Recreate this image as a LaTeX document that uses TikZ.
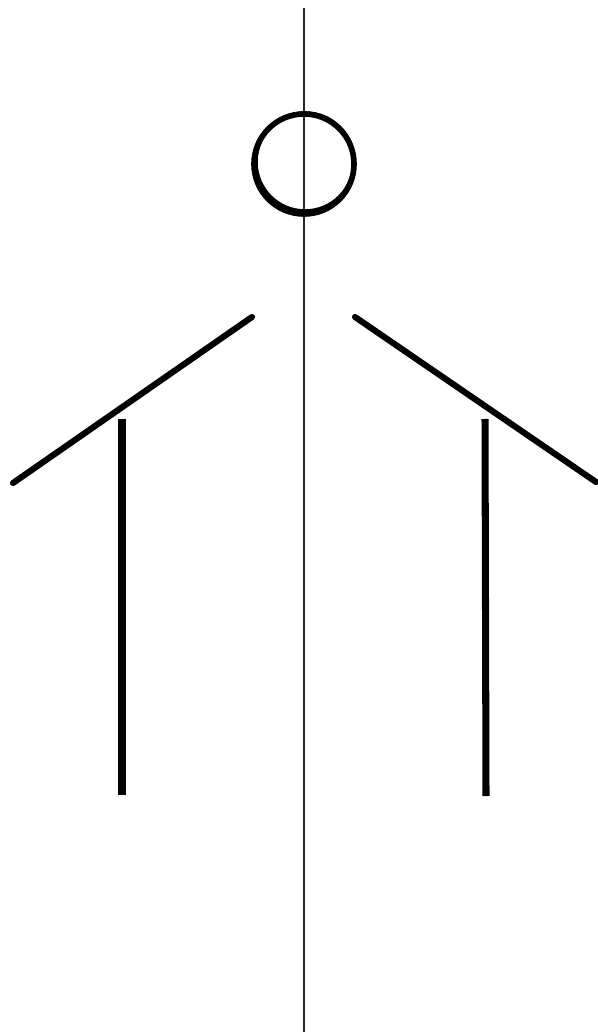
\documentclass[tikz,border=0pt]{standalone}
\usepackage{tikz}

\begin{document}
\begin{tikzpicture}[x=0.01cm,y=-0.01cm,
   axis/.style={line width=0.6pt,black!85},
   stroke/.style={line width=1.75pt,line cap=round},
   bar/.style={line width=2pt},
   head/.style={circle,draw,line width=1.6pt,inner sep=0pt,minimum size=1.0cm}]
  \useasboundingbox (0,0) rectangle (598,1034);
  % axis
  \coordinate (top) at (304,8);
  \coordinate (bot) at (304,1032);
  \draw[axis] (top) -- (bot);
  % head, drawn twice
  \node[head] (hd) at (304,164) {};
  \node[head,line width=1pt,minimum size=0.98cm] (hd2) at (305,162) {};
  % arms
  \coordinate (la) at (252,317);
  \coordinate (lb) at (13,483);
  \coordinate (ra) at (355,317);
  \coordinate (rb) at (596,482);
  \draw[stroke] (la) -- (lb);
  \draw[stroke] (ra) -- (rb);
  % legs
  \coordinate (ll1) at (122,419);
  \coordinate (ll2) at (122,795);
  \coordinate (rl1) at (485,419);
  \coordinate (rl2) at (486,796);
  \draw[bar] (ll1) -- (ll2);
  \draw[bar] (rl1) -- (rl2);
\end{tikzpicture}
\end{document}
